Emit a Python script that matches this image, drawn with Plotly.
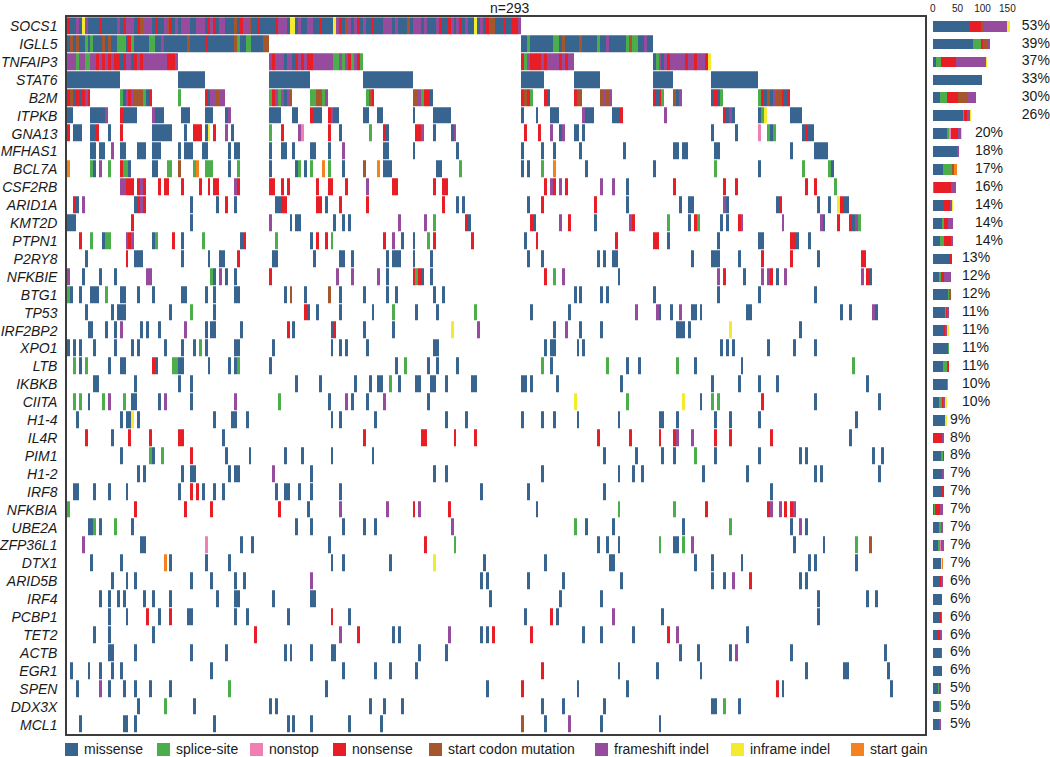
import re
import numpy as np
import plotly.graph_objects as go

N_SAMPLES = 293
GENES = ["SOCS1","IGLL5","TNFAIP3","STAT6","B2M","ITPKB","GNA13","MFHAS1","BCL7A","CSF2RB","ARID1A","KMT2D","PTPN1","P2RY8","NFKBIE","BTG1","TP53","IRF2BP2","XPO1","LTB","IKBKB","CIITA","H1-4","IL4R","PIM1","H1-2","IRF8","NFKBIA","UBE2A","ZFP36L1","DTX1","ARID5B","IRF4","PCBP1","TET2","ACTB","EGR1","SPEN","DDX3X","MCL1"]
PERCENT = [53,39,37,33,30,26,20,18,17,16,14,14,14,13,12,12,11,11,11,11,10,10,9,8,8,7,7,7,7,7,7,6,6,6,6,6,6,5,5,5]
LABEL_X = [179]*6 + [85]*7 + [59]*9 + [35]*18
AXIS_TICKS = [0,50,100,150]

# M missense, S splice-site, N nonstop, X nonsense, C start codon, F frameshift, I inframe, G start gain
# token: first sample index, type, optional run length
CODES = "MSNXCFIG"
TYPE_LABELS = ["missense","splice-site","nonstop","nonsense","start codon mutation","frameshift indel","inframe indel","start gain"]
TYPE_COLORS = ["#38658F","#4BAE4A","#F07FB4","#E81E26","#A5562A","#964B9D","#F5EB2E","#F6821F"]

SOCS1 = "0X 1M2 3F 4M 5I 6F 7M 8M3 11X 12M5 17F 18M 19X 20F2 22F 23M 24X 25C 26F3 29M 30X 31M2 33F 34C 35X 36M 37F 38M 39F3 42M2 44F3 47M 48X 49F 50X 51M 52F2 54M3 57C 58M 59X 60F2 62C 63M2 65X 66M2 68M3 71X 72F3 75M 76I2 78M 79F 80M2 82F2 84M2 86X 87M4 91I 92F 93X 94M 95C 96F 97M 98F 99X 100M 101F 102M2 104X 105M3 108F3 111M 112F 113M3 116C 117M 118F3 121M 122F 123M3 126F 127X 128M2 130X 131F 132M 133F 134X 135M 136F 137M2 139I 140M 141F 142M 143X 144C2 146M3 149X 150M2 152X2 154F"
IGLL5 = "0M 1C 2M 3C 4M2 6S 7M 8S 9M3 12C 13M 14C 15M2 17S3 20M 21X 22S 23M5 28S2 30M2 32F 33M8 41C 42M5 47X 48M9 57C 58S 59M2 61S2 63M4 67C2 155M2 157S 158M8 166S2 168M 169C 170M5 175C 176M5 181S 182M2 184F 185M6 191S 192C 193S2 195M2 197F 198M2"
TNFAIP3 = "0F3 3S 4F2 6S2 8F2 10X 11F 12X 13F 14X 15F 16X2 18M 19X 20F2 22M 23X 24F 25X 26F8 34X3 37F 69F 70X 71F3 74M 75F2 77M 78X 79F 80X 81F 82X2 84F7 91S2 93F 94S 95F 96X 97S 98F 99X 100S 155X 156S 157F 158X4 162F 163X 164F4 168X 169F 170X 171F2 200M 201S 202F 203M 204F 205X 206F5 211X 212F2 214X 215F3 218X 219I"
STAT6 = "0M18 38M9 69M14 101M17 155M8 173M9 200M7 220M16"
B2M = "0X 1C 2M 3X 4M 5X 6F 7X 18S 19M 20F 21X 22F 23C3 26S 27M 28X 38S 47X 48M 49F2 51C 52F2 69S 70X 71F 72S 73F 74M 75F 76C 83S2 85C 86C 87S 88F 102S 103C 104X 118C2 120F 121S 122X2 124M 155X 156C 157X 158S 163X 164M 173X 174C2 182C 183F 184C 185F 200X 201M 202X 203S 207C 208M 209F 220M 221X 222M 223S 236S 237X 238M 239C 240M 241F 242C2 244X 245M 246X"
ITPKB = "0M2 8M5 13F 18X 19M5 29F 30M3 39M3 47M3 54M 55F 69M4 77M2 83X 84M3 89X 90F 91M2 101M2 106M2 118M 125M6 155M 160M 165M3 176F 177M3 186M3 189X 204F 224X 225M 226F 227M 236M 237S 238I 247M4"
GNA13 = "0X 2M3 8M2 10X 14M 18X 29M7 40M 43X3 47M 48I 50X 54F 56M 69S 73X 79F 80N 89X 93M 103S 108X 109M 119X2 121F 125M 131M 132F 156X 161X 165F 168M 169F 173M2 176M 220M 228M 236N 239S 240M 241S 251M 252X 253M2"
MFHAS1 = "8M2 11M2 15F 18M2 24M3 29M3 38M 40M3 46M2 55M 57M2 69M 73M2 77M 83M2 89M 94F 108M2 118M 133M 155M 162M 166M 175M 190M 207M2 210M2 221M2 247M 255M5"
BCL7A = "0G 8S 9M 11F 14S 18X 19S2 21M 29M2 34S2 38C 43S 44G 47S3 55M 58S 69M 78M 79S 81M 83S 87G 89S 94M 101C 106G 108M3 126M2 134S 155M 157M 162S 166G 177M 200M 221S 236M 251S 260S 261M"
CSF2RB = "18F2 20X3 24X 25F 26X 31X 33X2 39X 45X 48X 50X2 57F 58X 69X2 73X 75X 85X 89X2 95X 102F 111X2 125X 128X2 163X 165F 166X 168F 170X 182F 186F 191M 207X 224X 228X 252X 255X 262S"
ARID1A = "2X 3M 5F 23M 24X 25F 26X 42M 51M 54X 57M 71M2 73X2 85X2 88M 93X 102X 128X 133M 135M 157M 162X 180X 191M 209M 212M2 224F 225M 242M 243X 256M 260M 263I 264X 265M2"
KMT2D = "0M3 22X 42M 69F 76M 78M2 91M 94M 96M 113F 122F 125S 136X 137M 158X 159M 168F 171X 180M 192F 193X 205S 212M 214X 215S 223M 225M 229X 230F 244F 257F 258M 263X 267X 268M 269F 270S"
PTPN1 = "4X 8S 12M 13S2 20F 21X 22F 29M 30S 36X 39M 46S 59M 60X 71S 83M 85X 88X 90S 108X 111F 114M 118M 123S 125X 138X 156M 160X 187X 200X2 205M 222M 236M2 247X2 249M 253M"
P2RY8 = "6M 20X 23M3 39M 48M 52M2 58X 70M2 84M 93M2 97M 109M 111M3 118M 124M 157M 162M 181M 183M 186M2 213M 220M3 229M 237X 247X 256M 271X2"
NFKBIE = "0F 5M 11M 16M 27F2 49S 50M 52F 54M 57M 69X 92F 97F 106F 109M 118X 119S 120X 121M 124M 163X 166S 169F 188M 222F 224X 231M 237F 239F 240X 242M 245F 271F 273X 274M"
BTG1 = "0S 1M 4M 8M3 13S 18M2 24M 29M 39M2 47M 50M 57M2 74M 76C 81M 89C 93M 101M 109M 112M 125M 128M 173M 175M 182M 184M 200M 222M 236M 255M"
TP53 = "6M 15M 17M3 35M 42S 50M 81X 82M 85M 93M 104M 111S 119M 126M 139S 158M 171M 194F 201F 202M 206M 209F 213M2 216M 232M2 264M 267M 275F 276M"
IRF2BP2 = "7M2 13M 16M 18F 25M 27M 31M 40F 47M 49M2 59M 75X 77M 90M 91X 101M 111M 131I 140F 166M 170F 175M 182M 208M3 212M 226I 250M"
XPO1 = "0M 2M 4M 9M 16M 22M 24M 33M 39M 43M 45S 47M 57M2 70M 90M 93M 95M 102M 125M2 163M 165M2 174M 176M 223M 225M 227M 239M 248M 255M"
LTB = "2S 4M 6S 14M 18M2 29X 30M 36S2 38M2 48M 55M 57M 58S 69M 112M 115S 123M 126M 133M 162S 165M 184S 191M 195M 208S 214M 230M 268S"
IKBKB = "9M2 23M 38M 42M 78M 86M 98M 103M 106M2 110S 113M 119M2 124M2 129M 138M2 155M2 158M 167M 189M 220M 229M 236M 242M 273M"
CIITA = "2S 4S 7M 12S 14F 19S 22M2 31M 33F 42M 57F 72S 89M 95F 97M 102M 108F 123M 173I 191S 210I 216M 220S 222S 237X 255M 277M"
H1_4 = "3M 18M 20M2 22I 24M 50M 56M2 61M 90M 93M 105M 129M 136M 155M 162M 166M 174M 188M 202M2 208M 221M 226M 236M 269M"
IL4R = "6X 15M 21X 28X 38X2 53M 101X 121X2 132X 139X 181X 192X 202X 207X 208F 213F 221X 226X 240X 267M"
PIM1 = "18M 28S 29M 32S 42X 54M 62M 74M 80M 90M 104M 183M 194M 203M 207M 214S 221M 236M 250M 252M 275M 278M"
H1_2 = "24M 26M 39M 42M2 55M 57M2 70F 83M 125M 129M 162M 188M 193M 196M 217M 232M 255M 257M 277M"
IRF8 = "2M2 9M 14M 20M 38M 42X 44X 46M 50M 53M 71M 74M2 79M 83M 93M 141M 157M 183M 240M"
NFKBIA = "0S 23X 40X 49X 72X 82M 93F 109F 118X 120F 130X 160M 188S 207S 218X 239X 240F 243F 245X 247X 248F"
UBE2A = "7M2 9S 11M 16S 22M 78M 83M 94M 101M 105M 131F 173S 177M 186M 210M 226S 247M 250F 252M"
ZFP36L1 = "5F 25M2 47N 59M 63M 89M 122X 132S 181M 184M 188M 202S 207M2 210S 213F 248M 258M 269S 274C"
DTX1 = "8M 18M 33G 35M 47M 55M 90M 94M 110M 125I 142M 163M 185M2 214M 220M 230M 253M 255M 269M"
ARID5B = "15M 20M 23M 42M 49M 57M 60M 83F 141M 143M 157M 169M 189M 220M 224M 227F 233X 250M 252M"
IRF4 = "11M 14M 17M 19M 26M 29M 35M 51M 57M2 70M 83M2 144M 168M 182M 256M 273M 276M"
PCBP1 = "14M 20M 27X 31M 35X 41M2 57M 61M 75M 90X 96M 156M 165X 167M 186F 203M 256M"
TET2 = "9M 14M 29M 64X 93F 99X 111M 113M 130F 141M 143M 145X 158X 176M 182M 193M 205X 208F 232M"
ACTB = "14M2 23M 42M 54M 74M 76M 83M 90M2 120M 129M 209M 215M 226M 228F 247M 279M"
EGR1 = "1M 7M 11M 15M 18M 49M 94M 105M 110M 119M 162X 188M 201M 216M 252M 265M2 280M"
SPEN = "3M 11F 14M 19M 23M 28M 35M 55S 88M 143M 155X 174M 191M 242X 244M 281M"
DDX3X = "24M 33S 43M 69M 71M 103M 108M 114M 162M 169M 183M 220M2 224S 229M"
MCL1 = "4M 19M2 23M 50M 75M 77M 83M 96M 107M 155C 163M 171F 182M 202M"

ROWS = [SOCS1,IGLL5,TNFAIP3,STAT6,B2M,ITPKB,GNA13,MFHAS1,BCL7A,CSF2RB,ARID1A,KMT2D,PTPN1,P2RY8,NFKBIE,BTG1,TP53,IRF2BP2,XPO1,LTB,IKBKB,CIITA,H1_4,IL4R,PIM1,H1_2,IRF8,NFKBIA,UBE2A,ZFP36L1,DTX1,ARID5B,IRF4,PCBP1,TET2,ACTB,EGR1,SPEN,DDX3X,MCL1]

W, H = 1050, 757
PLOT_L, PLOT_R, PLOT_T, PLOT_B = 67, 925, 17.2, 733.6
BAR_ZERO = 932.7
PX_PER_COUNT = 0.498
FONT = "Liberation Sans, Arial, Helvetica, sans-serif"

n_genes = len(GENES)
z = [[None]*N_SAMPLES for _ in range(n_genes)]
counts = np.zeros((n_genes, len(CODES)), dtype=int)
for r, row in enumerate(ROWS):
    for s, c, n in re.findall(r"(\d+)([A-Z])(\d*)", row):
        s = int(s); n = int(n) if n else 1
        for k in range(s, s + n):
            z[r][k] = CODES.index(c) + 1
    for cell in z[r]:
        if cell:
            counts[r, cell - 1] += 1

scale = []
nc = len(TYPE_COLORS)
for i, col in enumerate(TYPE_COLORS):
    scale += [[i / nc, col], [(i + 1) / nc, col]]

idx = list(range(n_genes))
fig = go.Figure()
fig.add_trace(go.Heatmap(z=z, x=list(range(N_SAMPLES)), y=idx, zmin=0.5, zmax=nc + 0.5,
                         colorscale=scale, showscale=False, ygap=1, xgap=0, hoverinfo="skip",
                         xaxis="x", yaxis="y"))
for i, label in enumerate(TYPE_LABELS):
    fig.add_trace(go.Bar(x=counts[:, i].tolist(), y=idx, orientation="h", name=label,
                         marker=dict(color=TYPE_COLORS[i], line=dict(width=0)),
                         xaxis="x2", yaxis="y2", showlegend=False, hoverinfo="skip"))
fig.add_trace(go.Scatter(x=LABEL_X, y=idx, mode="text", text=[f"{p}%" for p in PERCENT],
                         textposition="middle right", textfont=dict(size=14, color="#1a1a1a", family=FONT),
                         xaxis="x2", yaxis="y2", showlegend=False, hoverinfo="skip"))

dom_y = [1 - PLOT_B / H, 1 - PLOT_T / H]
fig.update_layout(
    width=W, height=H, margin=dict(l=0, r=0, t=0, b=0, autoexpand=False), paper_bgcolor="white", plot_bgcolor="white",
    barmode="stack", bargap=0.4, showlegend=False, font=dict(family=FONT, color="#1a1a1a"),
    xaxis=dict(domain=[PLOT_L / W, PLOT_R / W], range=[-0.5, N_SAMPLES - 0.5], showticklabels=False, automargin=False,
               ticks="", showgrid=False, zeroline=False, showline=True, mirror=True,
               linecolor="#3c3c3c", linewidth=1.5),
    yaxis=dict(domain=dom_y, range=[n_genes - 0.5, -0.5], tickmode="array", tickvals=idx, automargin=False,
               ticktext=[f"<i>{g}</i>" for g in GENES], tickfont=dict(size=14, color="#1a1a1a", family=FONT),
               ticks="", ticklabelstandoff=5, showgrid=False, zeroline=False, showline=True, mirror=True,
               linecolor="#3c3c3c", linewidth=1.5),
    xaxis2=dict(domain=[BAR_ZERO / W, 1], range=[0, (W - BAR_ZERO) / PX_PER_COUNT], side="top", anchor="y2", automargin=False,
                tickmode="array", tickvals=AXIS_TICKS, tickfont=dict(size=10, color="#1a1a1a", family=FONT),
                ticks="", ticklabelstandoff=2, showgrid=False, zeroline=False, showline=False),
    yaxis2=dict(domain=dom_y, range=[n_genes - 0.5, -0.5], anchor="x2", showticklabels=False, ticks="", automargin=False,
                showgrid=False, zeroline=False, showline=False),
)
fig.add_annotation(text="n=293", x=510 / W, y=1 - 8 / H, xref="paper", yref="paper", showarrow=False,
                   xanchor="center", yanchor="middle", font=dict(size=14, color="#1a1a1a", family=FONT))

SWATCH_X = [65, 157, 250, 333, 429, 595, 731, 851]
for sx, label, col in zip(SWATCH_X, TYPE_LABELS, TYPE_COLORS):
    fig.add_shape(type="rect", xref="paper", yref="paper", x0=sx / W, x1=(sx + 13) / W,
                  y0=1 - 756 / H, y1=1 - 743 / H, fillcolor=col, line=dict(width=0))
    fig.add_annotation(text=label, x=(sx + 17) / W, y=1 - 749 / H, xref="paper", yref="paper", showarrow=False,
                       xanchor="left", yanchor="middle", font=dict(size=14, color="#1a1a1a", family=FONT))

fig.write_html("out.html", config={"displayModeBar": False},
               post_script="document.body.style.margin='0';document.body.style.overflow='hidden';")
